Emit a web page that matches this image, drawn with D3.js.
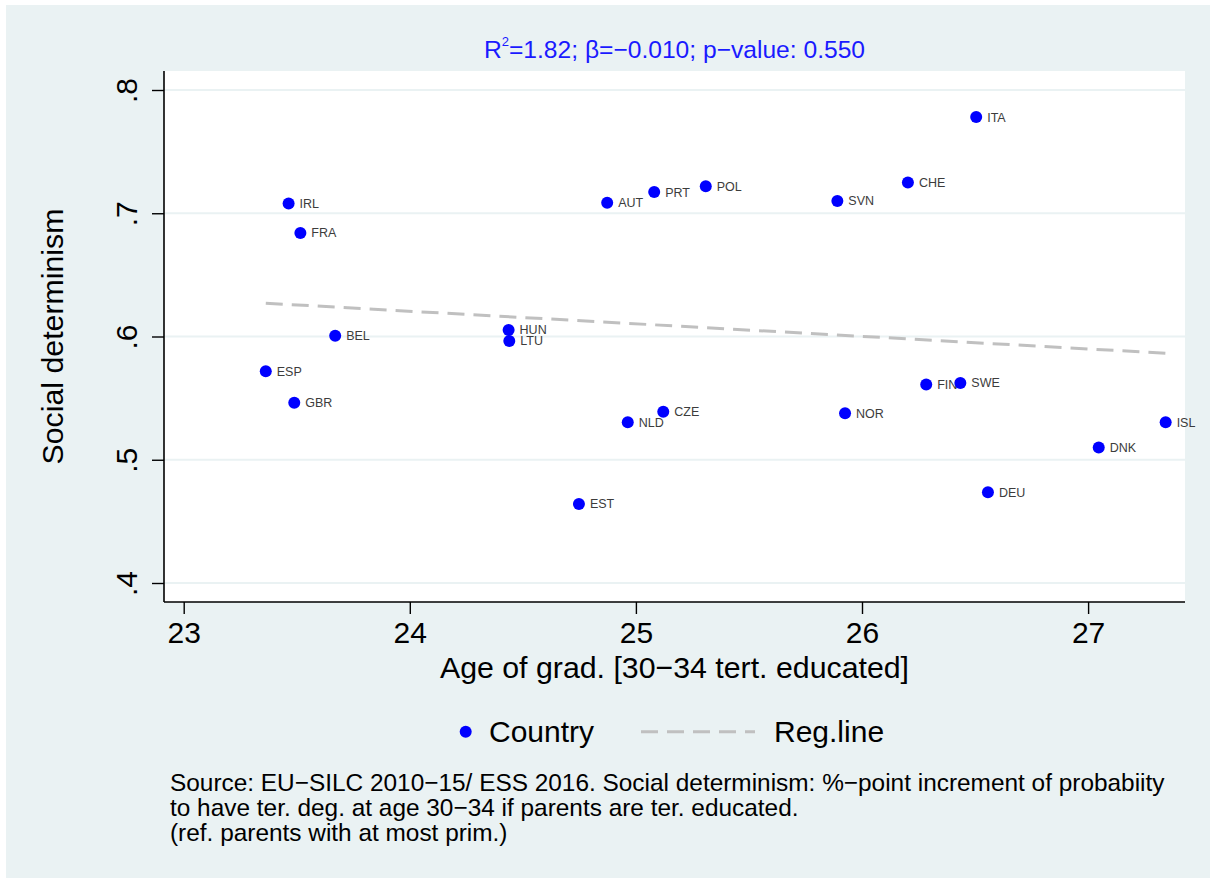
<!DOCTYPE html>
<html>
<head>
<meta charset="utf-8">
<script src="https://cdn.jsdelivr.net/npm/d3@7"></script>
<style>
  body { margin: 0; background: #ffffff; }
  text { font-family: "Liberation Sans", Arial, Helvetica, sans-serif; }
</style>
</head>
<body>
<div id="scatter"></div>
<script>
// chart data
var countries = ["IRL", "FRA", "BEL", "ESP", "GBR", "HUN", "LTU", "EST", "AUT", "PRT", "POL",
  "NLD", "CZE", "SVN", "NOR", "CHE", "ITA", "FIN", "SWE", "DEU", "DNK", "ISL"];
var gradAge = [23.464, 23.516, 23.670, 23.363, 23.489, 24.437, 24.440, 24.748, 24.873, 25.081, 25.309,
  24.964, 25.121, 25.891, 25.925, 26.203, 26.505, 26.284, 26.435, 26.557, 27.047, 27.343];
var socialDet = [0.708, 0.684, 0.6006, 0.5718, 0.5463, 0.6053, 0.5964, 0.4641, 0.7086, 0.7172, 0.7219,
  0.5304, 0.539, 0.710, 0.5377, 0.725, 0.778, 0.561, 0.5623, 0.4736, 0.510, 0.5304];

// fitted regression line end points
var regX = [23.363, 27.343];
var regY = [0.627, 0.5864];

var xTicks = [23, 24, 25, 26, 27];
var yTicks = [0.4, 0.5, 0.6, 0.7, 0.8];
var yTickLabels = [".4", ".5", ".6", ".7", ".8"];

var noteLines = [
  "Source: EU\u2212SILC 2010\u221215/ ESS 2016. Social determinism: %\u2212point increment of probabiity",
  "to have ter. deg. at age 30\u221234 if parents are ter. educated.",
  "(ref. parents with at most prim.)"
];

var svgWidth = 1213;
var svgHeight = 882;
var plot = { left: 164, right: 1185, top: 71, bottom: 602 };
var bgColor = "#eaf2f3";

var svg = d3.select("#scatter")
  .append("svg")
  .attr("width", svgWidth)
  .attr("height", svgHeight);

// outer graph region
svg.append("rect")
  .attr("x", 6)
  .attr("y", 5)
  .attr("width", 1204)
  .attr("height", 873)
  .attr("fill", bgColor);

// plot region
svg.append("rect")
  .attr("x", plot.left)
  .attr("y", plot.top)
  .attr("width", plot.right - plot.left)
  .attr("height", plot.bottom - plot.top)
  .attr("fill", "#ffffff");

// scales
var xScale = d3.scaleLinear()
  .domain([23, 27])
  .range([183.7, 1088.1]);
var yScale = d3.scaleLinear()
  .domain([0.4, 0.8])
  .range([583, 90]);

// grid lines
svg.append("g")
  .selectAll("line")
  .data(yTicks)
  .enter()
  .append("line")
  .attr("x1", plot.left)
  .attr("x2", plot.right)
  .attr("y1", d => yScale(d))
  .attr("y2", d => yScale(d))
  .attr("stroke", bgColor)
  .attr("stroke-width", 2);

// y axis
var leftAxis = d3.axisLeft(yScale)
  .tickValues(yTicks)
  .tickFormat((d, i) => yTickLabels[i])
  .tickSize(12)
  .tickSizeOuter(0);
var yAxis = svg.append("g")
  .attr("transform", `translate(${plot.left}, 0)`)
  .call(leftAxis);
yAxis.select(".domain")
  .attr("d", `M0,${plot.top}V${plot.bottom}`)
  .attr("stroke", "#000")
  .attr("stroke-width", 1.6);
yAxis.selectAll(".tick line").attr("stroke", "#000").attr("stroke-width", 1.4);
yAxis.selectAll(".tick text")
  .attr("transform", "rotate(-90)")
  .attr("x", 0)
  .attr("y", -27)
  .attr("dy", 0)
  .attr("text-anchor", "middle")
  .attr("fill", "#000")
  .style("font-size", "30px");

// x axis
var bottomAxis = d3.axisBottom(xScale)
  .tickValues(xTicks)
  .tickFormat(d3.format("d"))
  .tickSize(12)
  .tickSizeOuter(0);
var xAxis = svg.append("g")
  .attr("transform", `translate(0, ${plot.bottom})`)
  .call(bottomAxis);
xAxis.select(".domain")
  .attr("d", `M${plot.left},0H${plot.right}`)
  .attr("stroke", "#000")
  .attr("stroke-width", 1.6);
xAxis.selectAll(".tick line").attr("stroke", "#000").attr("stroke-width", 1.4);
xAxis.selectAll(".tick text")
  .attr("y", 41)
  .attr("dy", 0)
  .attr("fill", "#000")
  .style("font-size", "30px");

// axis titles
svg.append("text")
  .attr("x", (plot.left + plot.right) / 2)
  .attr("y", 678)
  .attr("text-anchor", "middle")
  .style("font-size", "30.3px")
  .text("Age of grad. [30\u221234 tert. educated]");

svg.append("text")
  .attr("transform", `translate(63, ${(plot.top + plot.bottom) / 2}) rotate(-90)`)
  .attr("text-anchor", "middle")
  .style("font-size", "30.3px")
  .text("Social determinism");

// title with regression stats
var title = svg.append("text")
  .attr("x", (plot.left + plot.right) / 2)
  .attr("y", 58)
  .attr("text-anchor", "middle")
  .attr("fill", "#1a1aff")
  .style("font-size", "24.6px");
title.append("tspan").text("R");
title.append("tspan").attr("dy", -12).style("font-size", "13px").text("2");
title.append("tspan").attr("dy", 12).text("=1.82; \u03b2=\u22120.010; p\u2212value: 0.550");

// regression line
var regLine = d3.line()
  .x(d => xScale(d[0]))
  .y(d => yScale(d[1]));
svg.append("path")
  .datum(regX.map((x, i) => [x, regY[i]]))
  .attr("d", regLine)
  .attr("fill", "none")
  .attr("stroke", "#c0c0c0")
  .attr("stroke-width", 3)
  .attr("stroke-dasharray", "17,9");

// country labels
svg.append("g")
  .selectAll("text")
  .data(countries)
  .enter()
  .append("text")
  .attr("x", (d, i) => xScale(gradAge[i]) + 11)
  .attr("y", (d, i) => yScale(socialDet[i]))
  .attr("dy", "0.36em")
  .attr("fill", "#3c3c3c")
  .style("font-size", "12.5px")
  .text(d => d);

// country markers
svg.append("g")
  .selectAll("circle")
  .data(countries)
  .enter()
  .append("circle")
  .attr("cx", (d, i) => xScale(gradAge[i]))
  .attr("cy", (d, i) => yScale(socialDet[i]))
  .attr("r", 6)
  .attr("fill", "#0000ff");

// legend
var legend = svg.append("g");
legend.append("circle")
  .attr("cx", 465.7)
  .attr("cy", 731.7)
  .attr("r", 6)
  .attr("fill", "#0000ff");
legend.append("text")
  .attr("x", 489)
  .attr("y", 742)
  .style("font-size", "30px")
  .text("Country");
legend.append("line")
  .attr("x1", 641)
  .attr("x2", 755)
  .attr("y1", 731.7)
  .attr("y2", 731.7)
  .attr("stroke", "#c0c0c0")
  .attr("stroke-width", 3)
  .attr("stroke-dasharray", "17,9");
legend.append("text")
  .attr("x", 774)
  .attr("y", 742)
  .style("font-size", "30px")
  .text("Reg.line");

// note
svg.append("g")
  .selectAll("text")
  .data(noteLines)
  .enter()
  .append("text")
  .attr("x", 170)
  .attr("y", (d, i) => 791 + i * 25)
  .style("font-size", "24.4px")
  .text(d => d);
</script>
</body>
</html>
